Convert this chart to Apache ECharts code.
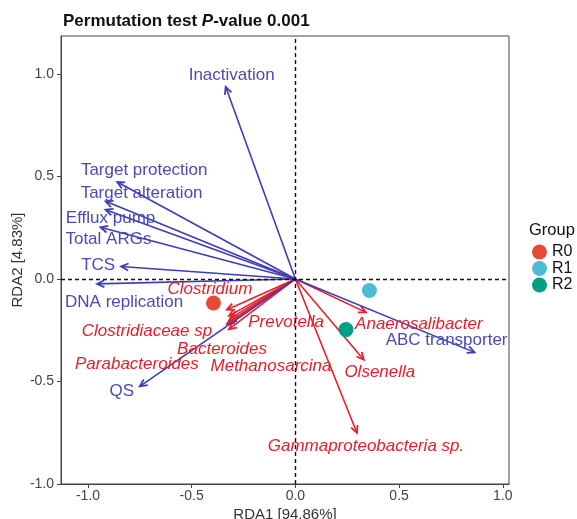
<!DOCTYPE html>
<html>
<head>
<meta charset="utf-8">
<script src="https://cdn.jsdelivr.net/npm/echarts@6/dist/echarts.min.js"></script>
<style>
html,body{margin:0;padding:0;background:#fff;}
#c{width:577px;height:519px;}
</style>
</head>
<body>
<div id="c"></div>
<script>
// ---- data ----
const envNames = ['Inactivation','Target protection','Target alteration','Efflux pump','Total ARGs','TCS','DNA replication','QS','ABC transporter'];
const envX = [-0.336,-0.859,-0.915,-0.915,-0.94,-0.84,-0.956,-0.75,0.864];
const envY = [0.937,0.473,0.379,0.338,0.252,0.061,-0.024,-0.524,-0.358];

const taxaNames = ['Clostridium','Clostridiaceae sp','Bacteroides','Parabacteroides','Methanosarcina','Prevotella','Anaerosalibacter','Olsenella','Gammaproteobacteria sp.'];
const taxaX = [-0.33,-0.32,-0.32,-0.33,-0.32,-0.31,0.34,0.33,0.297];
const taxaY = [-0.15,-0.18,-0.21,-0.22,-0.245,-0.19,-0.163,-0.394,-0.751];

const groupNames = ['R0','R1','R2'];
const groupX = [-0.395,0.357,0.244];
const groupY = [-0.117,-0.056,-0.247];

const xTicks = [-1.0,-0.5,0.0,0.5,1.0];
const yTicks = [-1.0,-0.5,0.0,0.5,1.0];

// ---- styles ----
const groupColors = ['#E64B35','#4DBBD5','#00A087'];
const blueLine = '#3d3db8', blueText = '#4a4ab8';
const redLine = '#e8202a', redText = '#e3202c';
const labelOffset = {
  'Inactivation':[6,-12],'Target protection':[27,-12],'Target alteration':[36,-8],
  'Efflux pump':[5,9],'Total ARGs':[8,12],'TCS':[-23,-1],'DNA replication':[27,18],
  'QS':[-18,5],'ABC transporter':[-28,-12],
  'Clostridium':[-17,-20],'Clostridiaceae sp':[-82,15],'Bacteroides':[-7,27],
  'Parabacteroides':[-90,40],'Methanosarcina':[42,37],'Prevotella':[55,4],
  'Anaerosalibacter':[53,12],'Olsenella':[16,13],'Gammaproteobacteria sp.':[9,13]
};
const FONT = 'Liberation Sans, Arial, sans-serif';

function arrowSeries(names, xs, ys, lineColor, textColor, italic){
  return {
    type:'custom',
    coordinateSystem:'cartesian2d',
    data: names.map((n,i)=>[xs[i], ys[i], n]),
    z: 3,
    renderItem: function(params, api){
      const p0 = api.coord([0,0]);
      const p1 = api.coord([api.value(0), api.value(1)]);
      const name = names[params.dataIndex];
      const ang = Math.atan2(p1[1]-p0[1], p1[0]-p0[0]);
      const hl = 8, sp = Math.PI/7;
      const a1 = [p1[0]-hl*Math.cos(ang-sp), p1[1]-hl*Math.sin(ang-sp)];
      const a2 = [p1[0]-hl*Math.cos(ang+sp), p1[1]-hl*Math.sin(ang+sp)];
      const off = labelOffset[name] || [0,0];
      return {
        type:'group',
        children:[
          {type:'line', shape:{x1:p0[0],y1:p0[1],x2:p1[0],y2:p1[1]}, style:{stroke:lineColor, lineWidth:1.6}},
          {type:'polyline', shape:{points:[a1,p1,a2]}, style:{stroke:lineColor, lineWidth:1.8, fill:null}},
          {type:'text', x:p1[0]+off[0], y:p1[1]+off[1], z2:5,
           style:{text:name, fill:textColor, fontSize:17, fontFamily:FONT,
                  fontStyle: italic ? 'italic':'normal', align:'center', verticalAlign:'middle'}}
        ]
      };
    }
  };
}

const chart = echarts.init(document.getElementById('c'), null, {renderer:'canvas'});
const series = [];
series.push({
  type:'scatter', name:'_ref', data:[], silent:true,
  markLine:{silent:true, symbol:'none', label:{show:false},
    lineStyle:{color:'#111', type:[4,3], width:1.4},
    data:[{xAxis:0},{yAxis:0}]}
});
series.push(arrowSeries(taxaNames, taxaX, taxaY, redLine, redText, true));
series.push(arrowSeries(envNames, envX, envY, blueLine, blueText, false));
groupNames.forEach((g,i)=>{
  series.push({type:'scatter', name:g, data:[[groupX[i], groupY[i]]], symbolSize:15,
    itemStyle:{color:groupColors[i], opacity:1}, z:4});
});

chart.setOption({
  animation:false,
  backgroundColor:'#fff',
  title:{
    text:'{b|Permutation test }{bi|P}{b|-value 0.001}',
    left:58, top:8,
    textStyle:{rich:{
      b:{fontSize:17, fontWeight:'bold', fontFamily:FONT, color:'#111'},
      bi:{fontSize:17, fontWeight:'bold', fontStyle:'italic', fontFamily:FONT, color:'#111'}
    }}
  },
  grid:{left:61, top:36, right:68, bottom:35, show:true, borderColor:'#444', borderWidth:1,
        backgroundColor:'transparent', containLabel:false, outerBoundsMode:'none'},
  xAxis:{
    type:'value', min:-1.13, max:1.03,
    name:'RDA1 [94.86%]', nameLocation:'middle', nameGap:23, nameMoveOverlap:false,
    nameTextStyle:{fontSize:15, fontFamily:FONT, color:'#333'},
    axisLine:{show:true, onZero:false, lineStyle:{color:'#444'}},
    axisTick:{show:true, length:4, customValues:xTicks, lineStyle:{color:'#444'}},
    axisLabel:{customValues:xTicks, formatter:v=>v.toFixed(1), fontSize:14, fontFamily:FONT, color:'#444', margin:5},
    splitLine:{show:false}
  },
  yAxis:{
    type:'value', min:-1.0, max:1.185,
    name:'RDA2 [4.83%]', nameLocation:'middle', nameGap:36, nameMoveOverlap:false,
    nameTextStyle:{fontSize:15, fontFamily:FONT, color:'#333'},
    axisLine:{show:true, onZero:false, lineStyle:{color:'#444'}},
    axisTick:{show:true, length:4, customValues:yTicks, lineStyle:{color:'#444'}},
    axisLabel:{customValues:yTicks, formatter:v=>v.toFixed(1), fontSize:14, fontFamily:FONT, color:'#444', margin:7},
    splitLine:{show:false}
  },
  legend:{
    data:groupNames, orient:'vertical', left:527, top:239,
    icon:'circle', itemWidth:15, itemHeight:15, itemGap:0.5,
    textStyle:{fontSize:16, fontFamily:FONT, color:'#111'}
  },
  graphic:[{type:'text', left:529, top:222, style:{text:'Group', fontSize:16.5, fontFamily:FONT, fill:'#111'}}],
  series: series
});
</script>
</body>
</html>
